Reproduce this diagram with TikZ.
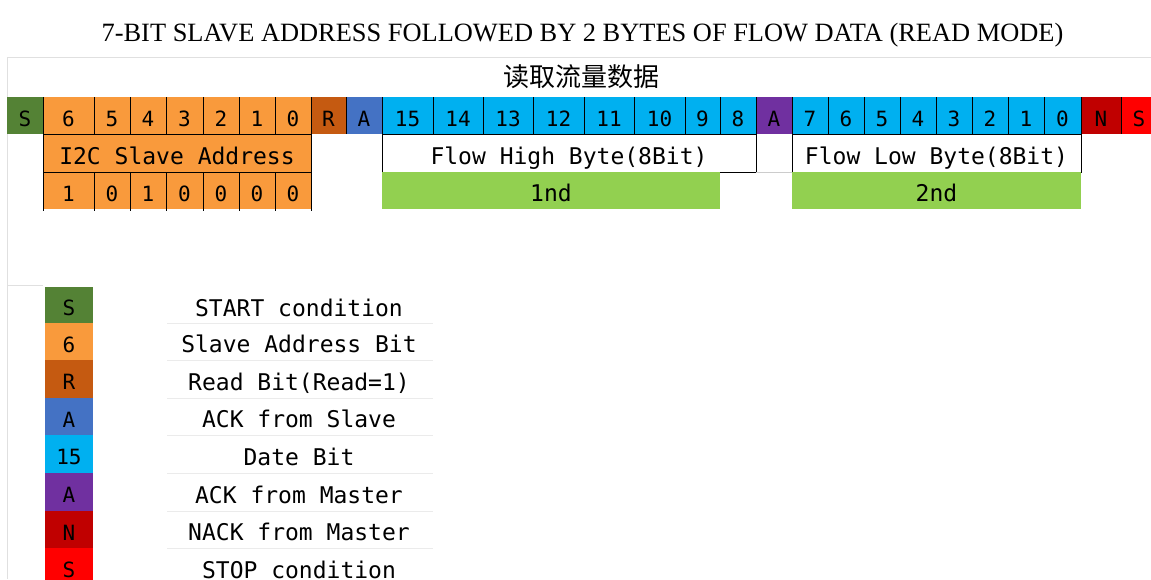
\documentclass[tikz,border=0pt]{standalone}
\usepackage{fontspec}
\newfontfamily\cellfont{DejaVu Sans Mono}
\newfontfamily\titlefont{Liberation Serif}
\newfontfamily\cjk{Noto Sans CJK SC}
\definecolor{cStart}{HTML}{548235}
\definecolor{cAddr}{HTML}{F99A3C}
\definecolor{cRead}{HTML}{C55A11}
\definecolor{cAckS}{HTML}{4472C4}
\definecolor{cData}{HTML}{00B0F0}
\definecolor{cAckM}{HTML}{7030A0}
\definecolor{cNack}{HTML}{C00000}
\definecolor{cStop}{HTML}{FF0000}
\definecolor{cByte}{HTML}{92D050}
\newcommand\mycell[7]{\node[cellsty, fill=#6, minimum width={#3-#2}, minimum height={#5-#4}] (#1) at ({(#2+#3)/2},{(#4+#5)/2}) {#7};}
\tikzset{
  cellsty/.style={inner sep=0pt, outer sep=0pt, text height=21pt, text depth=0pt, font=\cellfont\fontsize{21}{23}\selectfont},
  bigtext/.style={text height=22pt, text depth=0pt, font=\cellfont\fontsize{23}{25}\selectfont},
  sep/.style={line width=0.9pt, draw=black},
  grid/.style={line width=0.8pt, draw=black!12},
}
\begin{document}
\begin{tikzpicture}[x=1pt,y=-1pt]
\useasboundingbox (0,0) rectangle (1151,579);
% faint spreadsheet grid lines
\draw[grid] (7.5,57) -- (7.5,579);
\draw[grid] (7.5,57) -- (1151,57);
\draw[grid] (7.5,285) -- (43,285);
% titles
\node[font=\titlefont\fontsize{26.4}{28}\selectfont] (title) at (582.5,35) {7-BIT SLAVE ADDRESS FOLLOWED BY 2 BYTES OF FLOW DATA (READ MODE)};
\node[font=\cjk\fontsize{26}{28}\selectfont] (subtitle) at (581.5,77) {读取流量数据};
% top row
\mycell{t0}{7}{43}{97}{134}{cStart}{S}
\mycell{t1}{43}{94}{97}{134}{cAddr}{6}
\mycell{t2}{94}{130}{97}{134}{cAddr}{5}
\mycell{t3}{130}{166}{97}{134}{cAddr}{4}
\mycell{t4}{166}{203}{97}{134}{cAddr}{3}
\mycell{t5}{203}{239}{97}{134}{cAddr}{2}
\mycell{t6}{239}{275}{97}{134}{cAddr}{1}
\mycell{t7}{275}{311}{97}{134}{cAddr}{0}
\mycell{t8}{311}{346}{97}{134}{cRead}{R}
\mycell{t9}{346}{382}{97}{134}{cAckS}{A}
\mycell{t10}{382}{433}{97}{134}{cData}{15}
\mycell{t11}{433}{483}{97}{134}{cData}{14}
\mycell{t12}{483}{533}{97}{134}{cData}{13}
\mycell{t13}{533}{584}{97}{134}{cData}{12}
\mycell{t14}{584}{634}{97}{134}{cData}{11}
\mycell{t15}{634}{685}{97}{134}{cData}{10}
\mycell{t16}{685}{720}{97}{134}{cData}{9}
\mycell{t17}{720}{756}{97}{134}{cData}{8}
\mycell{t18}{756}{792}{97}{134}{cAckM}{A}
\mycell{t19}{792}{828}{97}{134}{cData}{7}
\mycell{t20}{828}{864}{97}{134}{cData}{6}
\mycell{t21}{864}{900}{97}{134}{cData}{5}
\mycell{t22}{900}{936}{97}{134}{cData}{4}
\mycell{t23}{936}{972}{97}{134}{cData}{3}
\mycell{t24}{972}{1008}{97}{134}{cData}{2}
\mycell{t25}{1008}{1044}{97}{134}{cData}{1}
\mycell{t26}{1044}{1081}{97}{134}{cData}{0}
\mycell{t27}{1081}{1121}{97}{134}{cNack}{N}
\mycell{t28}{1121}{1157}{97}{134}{cStop}{S}
\foreach \i in {0,...,27} {\draw[sep] (t\i.north east) -- (t\i.south east);}
% second row
\node[cellsty, bigtext, fill=cAddr, draw=black, line width=0.9pt, minimum width=268, minimum height=38] (addr) at (177,153) {I2C Slave Address};
\node[cellsty, bigtext, fill=white, draw=black, line width=0.9pt, minimum width=374, minimum height=38] (high) at (569,153) {Flow High Byte(8Bit)};
\node[cellsty, fill=white, minimum width=36, minimum height=38] (gap) at (774,153) {};
\draw[line width=0.8pt, draw=black!20] (gap.south west) -- (gap.south east);
\draw[sep] (gap.north west) -- (gap.south west);
\draw[sep] (gap.north east) -- (gap.south east);
\node[cellsty, bigtext, fill=white, draw=black, line width=0.9pt, minimum width=289, minimum height=38] (low) at (936.5,153) {Flow Low Byte(8Bit)};
% third row
\mycell{b1}{43}{94}{172}{209}{cAddr}{1}
\mycell{b2}{94}{130}{172}{209}{cAddr}{0}
\mycell{b3}{130}{166}{172}{209}{cAddr}{1}
\mycell{b4}{166}{203}{172}{209}{cAddr}{0}
\mycell{b5}{203}{239}{172}{209}{cAddr}{0}
\mycell{b6}{239}{275}{172}{209}{cAddr}{0}
\mycell{b7}{275}{311}{172}{209}{cAddr}{0}
\draw[sep] (b1.north west) -- ([yshift=-2pt]b1.south west);
\foreach \i in {1,...,7} {\draw[sep] (b\i.north east) -- ([yshift=-2pt]b\i.south east);}
\draw[sep] (addr.south west) -- (addr.south east);
\node[cellsty, bigtext, fill=cByte, minimum width=338, minimum height=37] (first) at (551,190.5) {1nd};
\node[cellsty, bigtext, fill=cByte, minimum width=289, minimum height=37] (second) at (936.5,190.5) {2nd};
% legend
\mycell{l1}{45}{93}{287}{323}{cStart}{S}
\mycell{l2}{45}{93}{323}{360}{cAddr}{6}
\mycell{l3}{45}{93}{360}{398}{cRead}{R}
\mycell{l4}{45}{93}{398}{435}{cAckS}{A}
\mycell{l5}{45}{93}{435}{473}{cData}{15}
\mycell{l6}{45}{93}{473}{511}{cAckM}{A}
\mycell{l7}{45}{93}{511}{548}{cNack}{N}
\mycell{l8}{45}{93}{548}{586}{cStop}{S}
\foreach \i/\txt in {1/START condition,2/Slave Address Bit,3/Read Bit(Read=1),4/ACK from Slave,5/Date Bit,6/ACK from Master,7/NACK from Master,8/STOP condition} {
  \node[bigtext, inner sep=0pt, anchor=center] (d\i) at (299,0 |- l\i) {\txt};
}
\foreach \i in {1,...,7} {\draw[line width=0.6pt, draw=black!8] (167,0 |- l\i.south) -- (433,0 |- l\i.south);}
\end{tikzpicture}
\end{document}
